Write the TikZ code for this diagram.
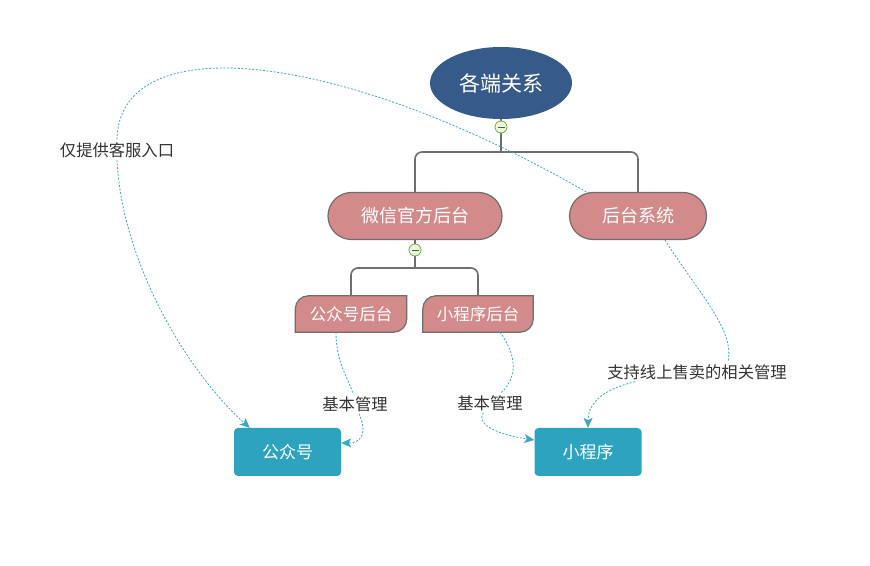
\documentclass[tikz,border=0pt]{standalone}
\usepackage{fontspec}
\setmainfont{Noto Sans CJK SC}
\usetikzlibrary{arrows.meta,shapes.geometric}
\pgfdeclarelayer{background}
\pgfsetlayers{background,main}

\definecolor{rootblue}{HTML}{365B8A}
\definecolor{topicpink}{HTML}{D28B8A}
\definecolor{leafteal}{HTML}{2EA3BF}
\definecolor{linkblue}{HTML}{3DA8C4}
\definecolor{branchgrey}{HTML}{6E6E6E}
\definecolor{labelgrey}{HTML}{333333}
\definecolor{toggreen}{HTML}{6AAF3D}
\definecolor{togfill}{HTML}{EEF7E6}

% leaf outline: round top-left and bottom-right corners only
\newcommand\leafbox[1]{%
  \filldraw[draw=branchgrey, line width=1.2pt, fill=topicpink]
    (#1.south west) -- ([yshift=-13pt]#1.north west)
    arc[start angle=180, end angle=90, radius=13pt]
    -- (#1.north east) -- ([yshift=13pt]#1.south east)
    arc[start angle=0, end angle=-90, radius=13pt] -- cycle;}

\begin{document}
\begin{tikzpicture}[x=1pt, y=1pt, >=Stealth,
  root/.style={ellipse, fill=rootblue, text=white, minimum width=142pt,
    minimum height=72pt, inner sep=0pt, font=\fontsize{21}{25}\selectfont},
  topic/.style={rectangle, rounded corners=23.5pt, draw=branchgrey,
    line width=1.2pt, fill=topicpink, text=white, minimum height=47pt,
    inner sep=0pt, font=\fontsize{18}{22}\selectfont},
  sub/.style={minimum height=36pt, inner sep=0pt, text=white,
    font=\fontsize{16.5}{20}\selectfont},
  target/.style={rectangle, rounded corners=4pt, fill=leafteal, text=white,
    minimum width=107pt, minimum height=48pt, inner sep=0pt,
    font=\fontsize{17}{20}\selectfont},
  note/.style={text=labelgrey, inner sep=2pt, font=\fontsize{16.3}{19}\selectfont},
  toggle/.style={circle, draw=toggreen, fill=togfill, line width=0.8pt,
    minimum size=12pt, inner sep=0pt,
    path picture={\draw[toggreen!60!black, line width=0.9pt]
      ([xshift=-3.5pt]path picture bounding box.center) --
      ([xshift=3.5pt]path picture bounding box.center);}},
  branch/.style={draw=branchgrey, line width=1.6pt, rounded corners=7pt},
  link/.style={draw=linkblue, line width=0.8pt, dash pattern=on 2pt off 1.6pt,
    -{Stealth[length=10pt, width=9pt, inset=2.5pt]}},
  linkhalf/.style={link, -}]

\useasboundingbox (0,0) rectangle (870,565);
\begin{pgfonlayer}{background}
  \fill[white] (0,0) rectangle (870,565);
\end{pgfonlayer}

% tree
\node[root] (rel) at (501,482) {各端关系};
\node[topic, minimum width=174pt] (wx) at (415,349) {微信官方后台};
\node[topic, minimum width=137pt] (ht) at (638,349) {后台系统};
\node[sub, minimum width=111pt] (gzhht) at (351,251) {公众号后台};
\node[sub, minimum width=110pt] (xcxht) at (478,251) {小程序后台};
\begin{pgfonlayer}{background}
  \leafbox{gzhht}
  \leafbox{xcxht}
\end{pgfonlayer}

\node[target] (gzh) at (287.5,113) {公众号};
\node[target] (xcx) at (588,113) {小程序};

\coordinate (fork1) at (501,413);
\coordinate (fork2) at (415,297);
\draw[branch] (rel.south) -- (fork1);
\draw[branch] (fork1) -| (wx.north);
\draw[branch] (fork1) -| (ht.north);
\draw[branch] (wx.south) -- (fork2);
\draw[branch] (fork2) -| (gzhht.north);
\draw[branch] (fork2) -| (xcxht.north);
\node[toggle] (tog1) at (501,438) {};
\node[toggle] (tog2) at (415,315) {};

% labels
\node[note] (kefu) at (117,415) {仅提供客服入口};
\node[note] (jb1) at (355,161) {基本管理};
\node[note] (jb2) at (490,162) {基本管理};
\node[note] (sell) at (697,193) {支持线上售卖的相关管理};

% relations
\draw[linkhalf] (ht.155) .. controls (330,520) and (118,535) .. (kefu.north);
\draw[link] (kefu.south) .. controls (122,300) and (190,190) .. ([xshift=16pt]gzh.north west);

\draw[linkhalf] ([xshift=-15pt]gzhht.south) .. controls (336,200) and (350,185) .. (jb1);
\draw[link] (jb1) .. controls (368,130) and (360,122) .. ([yshift=9pt]gzh.east);

\draw[linkhalf] ([xshift=22pt]xcxht.south) .. controls (520,205) and (515,185) .. (jb2);
\draw[link] (jb2) .. controls (475,140) and (500,130) .. ([yshift=12pt]xcx.west);

\draw[linkhalf] ([xshift=27pt]ht.south) .. controls (700,270) and (735,235) .. ([xshift=31pt]sell.north);
\draw[link] ([xshift=-62pt]sell.south) .. controls (600,175) and (588,160) .. (xcx.north);

\end{tikzpicture}
\end{document}
